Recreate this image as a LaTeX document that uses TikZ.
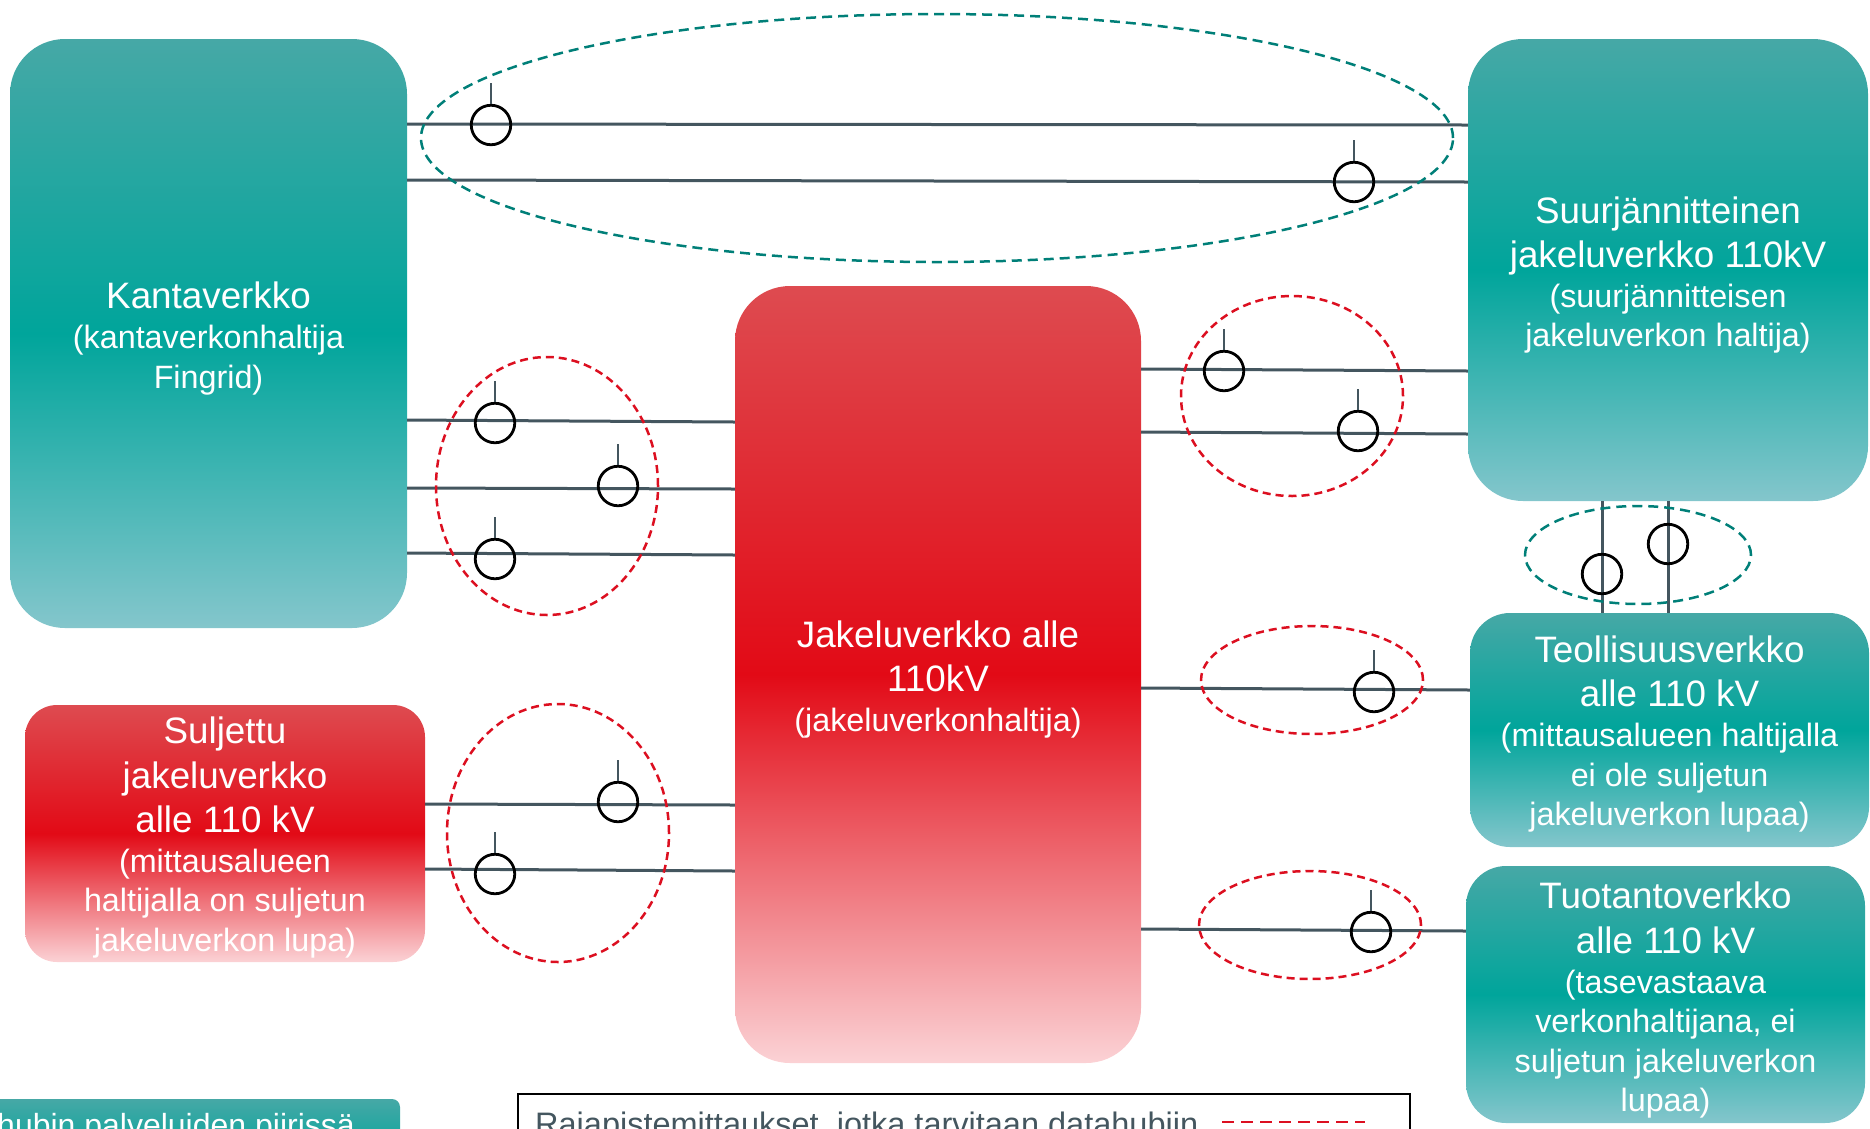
\documentclass[tikz,border=0pt]{standalone}
\usepackage{fontspec}
\setmainfont{Liberation Sans}
\definecolor{tealA}{HTML}{46A8A6}
\definecolor{tealB}{HTML}{00A59B}
\definecolor{tealC}{HTML}{84C6CC}
\definecolor{redA}{HTML}{DE4B50}
\definecolor{redB}{HTML}{E20A16}
\definecolor{redC}{HTML}{FBD2D5}
\definecolor{wirec}{HTML}{44565F}
\definecolor{dashteal}{HTML}{007F78}
\definecolor{dashred}{HTML}{DC0F20}
\newcommand{\bgT}[1]{{\fontsize{36.8}{44.6}\selectfont\spaceskip=.278em\xspaceskip=.278em #1\par}}
\newcommand{\smT}[1]{{\fontsize{32.3}{39.6}\selectfont\spaceskip=.278em\xspaceskip=.278em #1\par}}
\newcommand{\lnkEW}[4]{\draw[wire] (#1.east |- 0,#2) -- (#3.west |- 0,#4);}
\tikzset{
  tealbox/.style={rectangle,inner sep=0pt,top color=tealA,bottom color=tealC,middle color=tealB},
  redbox/.style={rectangle,inner sep=0pt,top color=redA,bottom color=redC,middle color=redB},
  boxtext/.style={inner sep=0pt,text=white,align=center,text width=398pt},
  wire/.style={draw=wirec,line width=3pt},
  meter/.style={circle,draw=black,line width=2.8pt,minimum size=39.5pt,inner sep=0pt},
  stem/.style={draw=wirec,line width=2.8pt},
  tealzone/.style={ellipse,draw=dashteal,line width=2.5pt,dash pattern=on 10pt off 6pt,inner sep=0pt},
  redzone/.style={ellipse,draw=dashred,line width=2.5pt,dash pattern=on 8pt off 5pt,inner sep=0pt},
}
\usetikzlibrary{shapes.geometric}
\begin{document}
\begin{tikzpicture}[x=1pt,y=-1pt]
\clip (0,0) rectangle (1870,1128);
\node[tealbox,rounded corners=55pt,minimum width=397pt,minimum height=589pt] (kanta) at (208.5,333.5) {};
\node[boxtext] (kantaT) at ([yshift=-5pt]kanta.center)
  {\bgT{Kantaverkko}\smT{(kantaverkonhaltija}\smT{Fingrid)}};
\node[tealbox,rounded corners=55pt,minimum width=400pt,minimum height=462pt] (suur) at (1668,270) {};
\node[boxtext] (suurT) at ([yshift=-5pt]suur.center)
  {\bgT{Suurjännitteinen}\bgT{jakeluverkko 110kV}\smT{(suurjännitteisen}\smT{jakeluverkon haltija)}};
\node[redbox,rounded corners=55pt,minimum width=406pt,minimum height=777pt] (jakelu) at (938,674.5) {};
\node[boxtext] (jakeluT) at ([yshift=-5pt]jakelu.center)
  {\bgT{Jakeluverkko alle}\bgT{110kV}\smT{(jakeluverkonhaltija)}};
\node[redbox,rounded corners=32pt,minimum width=400pt,minimum height=257pt] (sulj) at (225,833.5) {};
\node[boxtext] (suljT) at ([yshift=-4pt]sulj.center)
  {\bgT{Suljettu}\bgT{jakeluverkko}\bgT{alle 110 kV}\smT{(mittausalueen}\smT{haltijalla on suljetun}\smT{jakeluverkon lupa)}};
\node[tealbox,rounded corners=40pt,minimum width=399pt,minimum height=234pt] (teol) at (1669.5,730) {};
\node[boxtext] (teolT) at ([yshift=-4pt]teol.center)
  {\bgT{Teollisuusverkko}\bgT{alle 110 kV}\smT{(mittausalueen haltijalla}\smT{ei ole suljetun}\smT{jakeluverkon lupaa)}};
\node[tealbox,rounded corners=40pt,minimum width=399pt,minimum height=257pt] (tuot) at (1665.5,994.5) {};
\node[boxtext] (tuotT) at ([yshift=-6pt]tuot.center)
  {\bgT{Tuotantoverkko}\bgT{alle 110 kV}\smT{(tasevastaava}\smT{verkonhaltijana, ei}\smT{suljetun jakeluverkon}\smT{lupaa)}};
% bottom legend pieces
\node[rectangle,rounded corners=8pt,top color=tealA,bottom color=tealB,minimum width=460pt,minimum height=60pt,inner sep=0pt] (hubbox) at (170,1129) {};
\node[anchor=base east,inner sep=0pt,text=white,font=\fontsize{32}{38}\selectfont] (hubtext) at (355,1136) {hubin palveluiden piirissä};
\node[rectangle,draw=black,line width=2.6pt,minimum width=892pt,minimum height=200pt,inner sep=0pt] (legend) at (964,1194) {};
\node[anchor=base west,inner sep=0pt,text=wirec,font=\fontsize{32.5}{38}\selectfont] (legtext) at (535,1135) {Rajapistemittaukset, jotka tarvitaan datahubiin};
\coordinate (legA) at (1222,1122);
\coordinate (legB) at (1365,1122);
\draw[draw=dashred,line width=2.5pt,dash pattern=on 12pt off 7pt] (legA) -- (legB);
% connectors
\lnkEW{kanta}{124}{suur}{125}
\lnkEW{kanta}{180}{suur}{182}
\lnkEW{jakelu}{369}{suur}{371}
\lnkEW{jakelu}{432}{suur}{434}
\lnkEW{kanta}{420}{jakelu}{422}
\lnkEW{kanta}{488}{jakelu}{489}
\lnkEW{kanta}{553}{jakelu}{555}
\lnkEW{sulj}{804}{jakelu}{805}
\lnkEW{sulj}{869}{jakelu}{871}
\lnkEW{jakelu}{688}{teol}{690}
\lnkEW{jakelu}{929}{tuot}{931}
\draw[wire] (suur.south -| 1602,0) -- (teol.north -| 1602,0);
\draw[wire] (suur.south -| 1668,0) -- (teol.north -| 1668,0);
% zones
\node[tealzone,minimum width=1032pt,minimum height=248pt] (z1) at (937,138) {};
\node[redzone,minimum width=222pt,minimum height=258pt] (z2) at (547,486) {};
\node[redzone,minimum width=222pt,minimum height=258pt] (z3) at (558,833) {};
\node[redzone,minimum width=222pt,minimum height=200pt] (z4) at (1292,396) {};
\node[tealzone,minimum width=226pt,minimum height=98pt] (z5) at (1638,555) {};
\node[redzone,minimum width=222pt,minimum height=108pt] (z6) at (1312,680) {};
\node[redzone,minimum width=222pt,minimum height=108pt] (z7) at (1310,925) {};
% meters
\foreach \n/\x/\y in {1/491/125,2/1354/182,3/1224/371,4/1358/431,5/495/423,6/618/486,7/495/559,8/618/802,9/495/874,10/1374/692,11/1371/932}{
  \node[meter] (m\n) at (\x,\y) {};
  \draw[stem] (m\n.north) -- ++(0,-21);
}
\node[meter] (m12) at (1602,574) {};
\node[meter] (m13) at (1668,544) {};
\end{tikzpicture}
\end{document}
